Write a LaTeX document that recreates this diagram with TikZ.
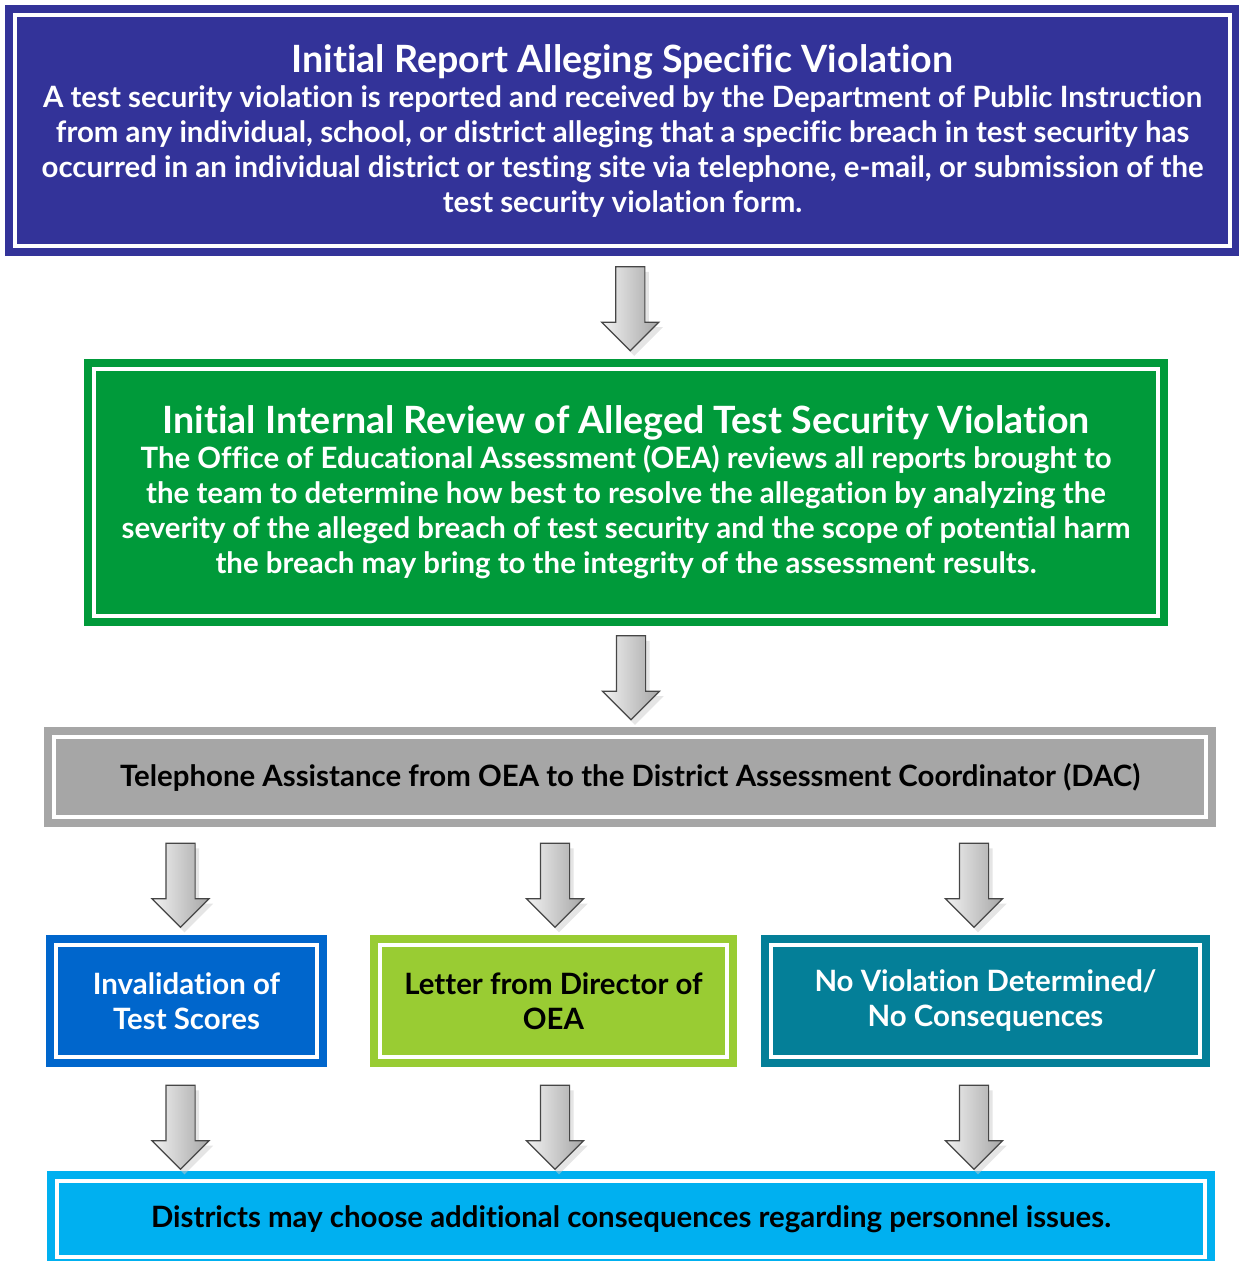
\documentclass[tikz,border=0pt]{standalone}
\usepackage{fontspec}
\setmainfont{Lato}[Ligatures=NoCommon]
\usepackage{tikz}
\usetikzlibrary{calc,shapes.arrows,shadows}
\definecolor{cnavy}{HTML}{333399}
\definecolor{cgreen}{HTML}{009A3A}
\definecolor{cgrey}{HTML}{A6A6A6}
\definecolor{cblue}{HTML}{0066CC}
\definecolor{clime}{HTML}{99CC33}
\definecolor{cteal}{HTML}{047F98}
\definecolor{ccyan}{HTML}{00B0F0}

\tikzset{
  framed/.style={fill=#1,draw=#1,line width=8.5pt,double=white,double distance=3.5pt,
    inner sep=0pt,align=center,font=\fontsize{29.4}{35}\selectfont\bfseries},
  downarrow/.style={single arrow,shape border rotate=270,minimum height=84pt,minimum width=56pt,
    single arrow head extend=14pt,inner sep=14pt,left color=gray!10,right color=gray!70,
    draw=gray!55!black,line width=1.2pt,
    drop shadow={shadow xshift=4pt,shadow yshift=-5pt,fill=gray!40,draw=none}}
}
\newcommand{\headline}[1]{{\fontsize{37.6}{42}\selectfont #1}}

\begin{document}
\begin{tikzpicture}[x=1pt,y=-1pt]
  \useasboundingbox (0,0) rectangle (1239,1261);

  % boxes
  \node[framed=cnavy,text=white,minimum width=1215pt,minimum height=231pt] (report) at (622.5,130.5)
    {\headline{Initial Report Alleging Specific Violation}\\
     A test security violation is reported and received by the Department of Public Instruction\\
     from any individual, school, or district alleging that a specific breach in test security has\\
     occurred in an individual district or testing site via telephone, e-mail, or submission of the\\
     test security violation form.};
  \node[framed=cgreen,text=white,minimum width=1064pt,minimum height=247pt] (review) at (626,492.5)
    {\headline{Initial Internal Review of Alleged Test Security Violation}\\
     The Office of Educational Assessment (OEA) reviews all reports brought to\\
     the team to determine how best to resolve the allegation by analyzing the\\
     severity of the alleged breach of test security and the scope of potential harm\\
     the breach may bring to the integrity of the assessment results.};
  \node[framed=cgrey,text=black,minimum width=1152pt,minimum height=80pt] (dac) at (630,777)
    {Telephone Assistance from OEA to the District Assessment Coordinator (DAC)};
  \node[framed=cblue,text=white,minimum width=261pt,minimum height=112pt] (invalid) at (186.5,1001)
    {Invalidation of\\Test Scores};
  \node[framed=clime,text=black,minimum width=347pt,minimum height=112pt] (letter) at (553.5,1001)
    {Letter from Director of\\OEA};
  \node[framed=cteal,text=white,minimum width=429pt,minimum height=112pt] (noviol) at (985.5,1001)
    {No Violation Determined/\\No Consequences};
  \node[framed=ccyan,text=black,minimum width=1148pt,minimum height=76pt] (district) at (631,1219)
    {Districts may choose additional consequences regarding personnel issues.};

  % arrows
  \node[downarrow] (a1) at ($(report.south)!0.5!(review.north)+(6,-6)$) {};
  \node[downarrow] (a2) at ($(review.south)!0.5!(dac.north)+(3,-6)$) {};
  \node[downarrow] (a3) at ($(dac.south -| invalid.north)!0.5!(invalid.north)+(-6,-3)$) {};
  \node[downarrow] (a4) at ($(dac.south -| letter.north)!0.5!(letter.north)+(1.5,-3)$) {};
  \node[downarrow] (a5) at ($(dac.south -| noviol.north)!0.5!(noviol.north)+(-11.5,-3)$) {};
  \node[downarrow] (a6) at ($(invalid.south)!0.5!(district.north -| invalid.south)+(-6,1)$) {};
  \node[downarrow] (a7) at ($(letter.south)!0.5!(district.north -| letter.south)+(1.5,1)$) {};
  \node[downarrow] (a8) at ($(noviol.south)!0.5!(district.north -| noviol.south)+(-11.5,1)$) {};
\end{tikzpicture}
\end{document}
